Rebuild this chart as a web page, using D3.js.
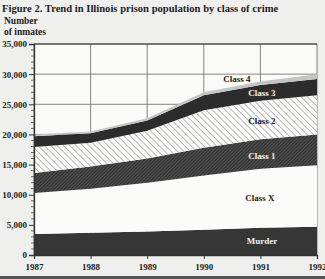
<!DOCTYPE html>
<html><head><meta charset="utf-8">
<script src="https://cdn.jsdelivr.net/npm/d3@7"></script>
<style>
html,body{margin:0;padding:0;background:#efefed;}
svg{display:block;}
text{font-family:"Liberation Serif","Times New Roman",serif;font-weight:bold;fill:#222;}
</style></head>
<body>
<svg id="c" width="325" height="279"></svg>
<script>
const years = [1987, 1988, 1989, 1990, 1991, 1992];
const murder = [3500, 3700, 3900, 4200, 4500, 4700];
const classX = [6800, 7300, 8100, 9000, 9800, 10200];
const class1 = [3300, 3700, 4000, 4600, 4900, 5100];
const class2 = [4300, 3900, 4600, 6200, 6400, 6500];
const class3 = [1800, 1600, 1700, 2500, 2600, 2700];
const class4 = [300, 300, 400, 500, 600, 800];
const seriesNames = ["Murder", "Class X", "Class 1", "Class 2", "Class 3", "Class 4"];
const yTicks = [0, 5000, 10000, 15000, 20000, 25000, 30000, 35000];

const seriesValues = [murder, classX, class1, class2, class3, class4];
const table = years.map((yr, i) => {
  const row = {year: yr};
  seriesNames.forEach((n, k) => row[n] = seriesValues[k][i]);
  return row;
});

const svg = d3.select("#c");
const W = 325, H = 279;
const x = d3.scaleLinear().domain([1987, 1992]).range([34, 317]);
const y = d3.scaleLinear().domain([0, 35000]).range([255, 44]);

// patterns
const defs = svg.append("defs");
const p2 = defs.append("pattern").attr("id", "hatch2").attr("patternUnits", "userSpaceOnUse")
  .attr("width", 4.5).attr("height", 4.5).attr("patternTransform", "rotate(-45)");
p2.append("rect").attr("width", 4.5).attr("height", 4.5).attr("fill", "#fbfbfa");
p2.append("line").attr("x1", 0).attr("y1", 0).attr("x2", 0).attr("y2", 4.5)
  .attr("stroke", "#6a6a6a").attr("stroke-width", 0.9);
const p1 = defs.append("pattern").attr("id", "hatch1").attr("patternUnits", "userSpaceOnUse")
  .attr("width", 2.4).attr("height", 2.4).attr("patternTransform", "rotate(45)");
p1.append("rect").attr("width", 2.4).attr("height", 2.4).attr("fill", "#383838");
p1.append("line").attr("x1", 0).attr("y1", 0).attr("x2", 0).attr("y2", 2.4)
  .attr("stroke", "#777").attr("stroke-width", 0.7);

// plot background
svg.append("rect").attr("x", x(1987)).attr("y", y(35000))
  .attr("width", x(1992) - x(1987)).attr("height", y(0) - y(35000)).attr("fill", "#fafaf9");

// grid
svg.append("g").selectAll("line").data(years).join("line")
  .attr("x1", d => x(d)).attr("x2", d => x(d)).attr("y1", y(35000)).attr("y2", y(0))
  .attr("stroke", "#666").attr("stroke-width", 0.8);
svg.append("g").selectAll("line").data(yTicks.filter(d => d > 0)).join("line")
  .attr("x1", x(1987)).attr("x2", x(1992)).attr("y1", d => y(d)).attr("y2", d => y(d))
  .attr("stroke", "#666").attr("stroke-width", 0.8);
svg.append("line").attr("x1", x(1987)).attr("x2", x(1992)).attr("y1", y(35000)).attr("y2", y(35000))
  .attr("stroke", "#333").attr("stroke-width", 1.2);

// stack
const stack = d3.stack().keys(seriesNames)(table);
const fills = {"Murder": "#363636", "Class X": "#fbfbfa", "Class 1": "url(#hatch1)",
  "Class 2": "url(#hatch2)", "Class 3": "#2c2c2c", "Class 4": "#c4c4c4"};
const area = d3.area().x(d => x(d.data.year)).y0(d => y(d[0])).y1(d => y(d[1]));
svg.append("g").selectAll("path").data(stack).join("path")
  .attr("d", area).attr("fill", d => fills[d.key]);

// axes
const yAxis = d3.axisLeft(y).tickValues(yTicks).tickSize(5).tickPadding(2)
  .tickFormat(d3.format(","));
const gy = svg.append("g").attr("transform", `translate(${x(1987)},0)`).call(yAxis);
gy.select(".domain").attr("stroke", "#333").attr("stroke-width", 1.3);
gy.selectAll(".tick line").attr("stroke", "#333");
gy.selectAll("text").style("font-size", "9px").attr("fill", "#222");
const minor = d3.range(0, 35001, 1000).filter(d => d % 5000 !== 0);
svg.append("g").selectAll("line").data(minor).join("line")
  .attr("x1", x(1987) - 3).attr("x2", x(1987)).attr("y1", d => y(d)).attr("y2", d => y(d))
  .attr("stroke", "#444").attr("stroke-width", 0.8);

const xAxis = d3.axisBottom(x).tickValues(years).tickFormat(d3.format("d")).tickSize(4).tickPadding(5);
const gx = svg.append("g").attr("transform", `translate(0,${y(0)})`).call(xAxis);
gx.select(".domain").attr("stroke", "#333").attr("stroke-width", 1.3);
gx.selectAll(".tick line").attr("stroke", "#333");
gx.selectAll("text").style("font-size", "9px").attr("fill", "#222");

// series labels
const labelPos = [
  {name: "Murder", cx: 262, color: "#f4f4f4"},
  {name: "Class X", cx: 260, color: "#222"},
  {name: "Class 1", cx: 262, color: "#f4f4f4"},
  {name: "Class 2", cx: 262, color: "#222"},
  {name: "Class 3", cx: 262, color: "#f4f4f4"}
];
const labelY = {"Murder": 243.5, "Class X": 201, "Class 1": 159, "Class 2": 124, "Class 3": 96};
svg.append("g").selectAll("text").data(labelPos).join("text")
  .attr("x", d => d.cx).attr("y", d => labelY[d.name]).attr("text-anchor", "middle")
  .style("font-size", "9px").style("fill", d => d.color)
  .text(d => d.name);
svg.append("text").attr("x", 237).attr("y", 82).attr("text-anchor", "middle")
  .style("font-size", "9px").text("Class 4");

// title & y label
svg.append("text").attr("x", 2).attr("y", 11.5).style("font-size", "10.6px")
  .text("Figure 2. Trend in Illinois prison population by class of crime");
svg.append("text").attr("x", 4).attr("y", 24).style("font-size", "9.5px").text("Number");
svg.append("text").attr("x", 4).attr("y", 35).style("font-size", "9.5px").text("of inmates");

// bottom dark edge
svg.append("rect").attr("x", 0).attr("y", H - 3).attr("width", W).attr("height", 3).attr("fill", "#555");
</script>
</body></html>
